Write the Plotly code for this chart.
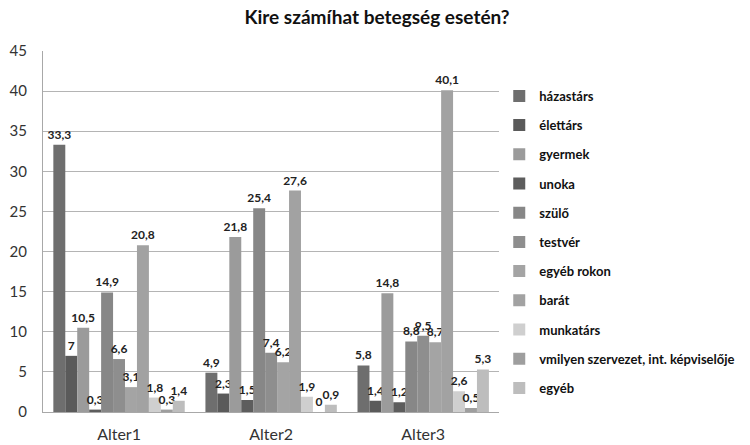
import plotly.graph_objects as go

categories = ["Alter1", "Alter2", "Alter3"]
series_names = ["házastárs", "élettárs", "gyermek", "unoka", "szülő", "testvér",
                "egyéb rokon", "barát", "munkatárs",
                "vmilyen szervezet, int. képviselője", "egyéb"]
values = [
    [33.3, 4.9, 5.8],
    [7, 2.3, 1.4],
    [10.5, 21.8, 14.8],
    [0.3, 1.5, 1.2],
    [14.9, 25.4, 8.8],
    [6.6, 7.4, 9.5],
    [3.1, 6.2, 8.7],
    [20.8, 27.6, 40.1],
    [1.8, 1.9, 2.6],
    [0.3, 0, 0.5],
    [1.4, 0.9, 5.3],
]
colors = ["#6e6e6e", "#5a5a5a", "#9b9b9b", "#5d5d5d", "#878787", "#8e8e8e",
          "#a4a4a4", "#a2a2a2", "#cfcfcf", "#9e9e9e", "#bdbdbd"]
y_ticks = [0, 5, 10, 15, 20, 25, 30, 35, 40, 45]

fig = go.Figure()
for name, vals, col in zip(series_names, values, colors):
    fig.add_trace(go.Bar(
        x=categories, y=vals, name=name, legendgroup=name,
        marker=dict(color=col, line=dict(width=0)),
        text=[("%g" % v).replace(".", ",") for v in vals],
        textposition="outside", constraintext="none", cliponaxis=False,
        textfont=dict(family="Lato", size=12, color="#222222", weight="bold"),
    ))

fig.update_layout(
    width=750, height=445,
    paper_bgcolor="white", plot_bgcolor="white",
    barmode="group", bargap=0.136, bargroupgap=0,
    margin=dict(l=35, r=253, t=43, b=41),
    title=dict(text="<b>Kire számíhat betegség esetén?</b>", x=0.492, xanchor="center",
               y=0.995, yanchor="top", pad=dict(t=0, b=0),
               font=dict(family="Lato", size=19, color="#111111")),
    font=dict(family="Lato", color="#333333"),
    legend=dict(xref="container", yref="paper",
                x=0.655, xanchor="left", y=0.917, yanchor="top",
                traceorder="grouped", tracegroupgap=9.3, itemwidth=30,
                font=dict(family="Lato", size=13, color="#111111", weight="bold"),
                bgcolor="rgba(0,0,0,0)"),
    showlegend=True,
)
fig.update_yaxes(range=[0, 45], tickvals=y_ticks, showgrid=True,
                 gridcolor="#b4b4b4", gridwidth=1, zeroline=False,
                 showline=True, linecolor="#a8a8a8", linewidth=1,
                 tickfont=dict(family="Lato", size=15, color="#333333"),
                 ticks="", ticklabelstandoff=12, automargin=False)
fig.update_xaxes(showline=True, linecolor="#a8a8a8", linewidth=1, ticks="",
                 ticklabelstandoff=8, automargin=False,
                 tickfont=dict(family="Lato", size=16, color="#333333"))

fig.write_html("out.html")
